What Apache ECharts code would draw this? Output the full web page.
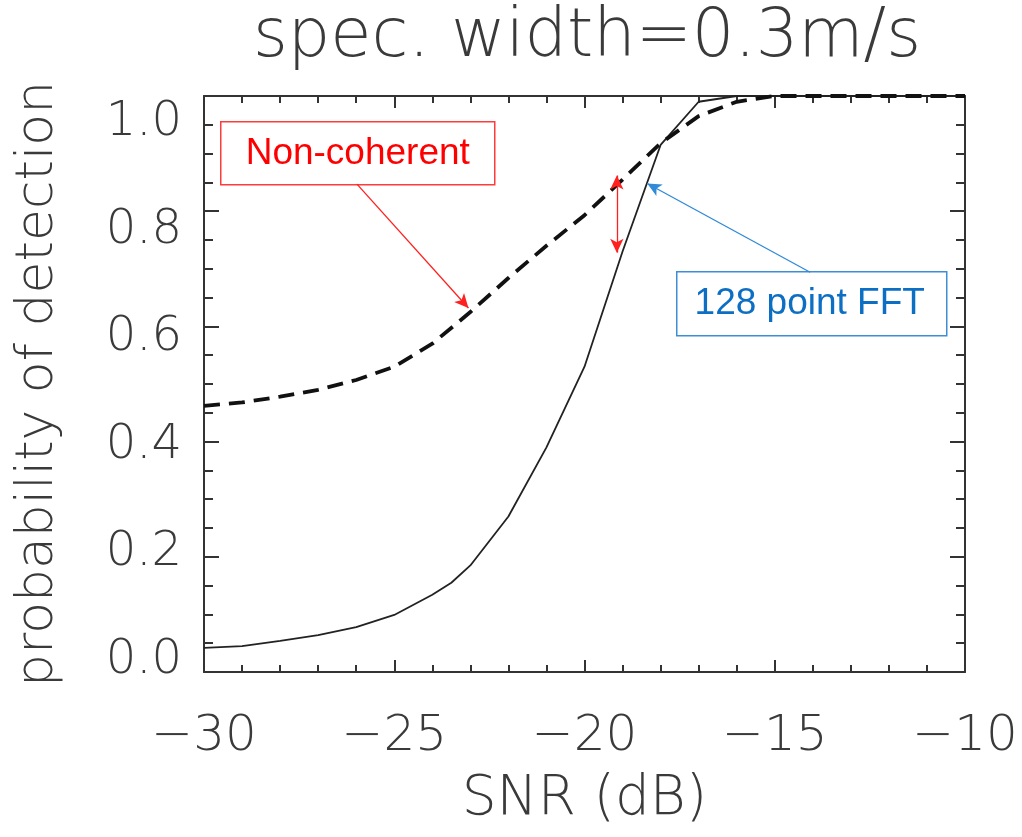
<!DOCTYPE html>
<html>
<head>
<meta charset="utf-8">
<script src="https://cdn.jsdelivr.net/npm/echarts@6/dist/echarts.min.js"></script>
<style>
html,body{margin:0;padding:0;background:#fff;}
#c{width:1022px;height:837px;}
</style>
</head>
<body>
<div id="c"></div>
<script>
// ---- data (SNR in dB, probability of detection) ----
const fftSNR  = [-30, -29, -28, -27, -26, -25, -24, -23.5, -23, -22, -21, -20, -19, -18, -17, -16, -15, -10];
const fftProb = [0.042, 0.045, 0.054, 0.064, 0.078, 0.099, 0.134, 0.155, 0.185, 0.27, 0.39, 0.53, 0.73, 0.915, 0.99, 1.0, 1.0, 1.0];
const nonCohSNR  = [-30, -29, -28, -27, -26, -25, -24, -23, -22, -21, -20, -19, -18, -17, -16, -15, -14, -10];
const nonCohProb = [0.462, 0.468, 0.478, 0.49, 0.507, 0.53, 0.57, 0.625, 0.684, 0.74, 0.793, 0.855, 0.918, 0.965, 0.99, 1.0, 1.0, 1.0];
const yTickLabels = [0.0, 0.2, 0.4, 0.6, 0.8, 1.0];
const xTickLabels = [-30, -25, -20, -15, -10];
const titleText = 'spec. width=0.3m/s';
const xName = 'SNR (dB)';
const yName = 'probability of detection';
const nonCohLabel = 'Non-coherent';
const fftLabel = '128 point FFT';
// annotation arrows in data coordinates [snr, prob]
const nonCohArrow = [[-25.98, 0.847], [-23.05, 0.632]];
const fftArrow = [[-14.07, 0.694], [-18.35, 0.848]];
const gapArrow = [[-19.15, 0.862], [-19.15, 0.728]];

const pair = (xs, ys) => xs.map((x, i) => [x, ys[i]]);

const FONT = '"DejaVu Sans", "Liberation Sans", sans-serif';
const TXT = '#3a3a3a';
const AX = '#333';

const chart = echarts.init(document.getElementById('c'), null, {renderer: 'canvas'});

const frameAxis = (pos, isX) => ({
  type: 'value',
  position: pos,
  min: isX ? -30 : 0,
  max: isX ? -10 : 1,
  interval: isX ? 5 : 0.2,
  axisLine: {show: true, onZero: false, lineStyle: {color: AX, width: 2}},
  axisTick: {show: true, inside: true, length: isX ? 12 : 15, lineStyle: {color: AX, width: 2}},
  minorTick: {show: true, splitNumber: isX ? 5 : 4, length: isX ? 7 : 9, lineStyle: {color: AX, width: 2}},
  axisLabel: {show: false},
  splitLine: {show: false},
  minorSplitLine: {show: false}
});

const minus = v => String(v).replace('-', '\u2212');

const option = {
  backgroundColor: '#fff',
  animation: false,
  title: {
    text: titleText,
    left: 582, top: 0, textAlign: 'center',
    textStyle: {fontFamily: FONT, fontWeight: 200, fontSize: 67, color: TXT}
  },
  grid: {left: 204, right: 57, top: 96, bottom: 165, containLabel: false, outerBoundsMode: 'none'},
  xAxis: [
    Object.assign(frameAxis('bottom', true), {
      axisLabel: {show: true, margin: 40, fontFamily: FONT, fontWeight: 200, fontSize: 50, color: TXT,
        customValues: xTickLabels, formatter: v => minus(v)},
      name: xName, nameLocation: 'middle', nameGap: 100,
      nameTextStyle: {fontFamily: FONT, fontWeight: 200, fontSize: 55, color: TXT}
    }),
    frameAxis('top', true)
  ],
  yAxis: [
    frameAxis('left', false),
    frameAxis('right', false),
    {
      type: 'value', position: 'left', offset: 0,
      min: -0.022, max: 1.05,
      axisLine: {show: false}, axisTick: {show: false}, splitLine: {show: false},
      axisLabel: {show: true, margin: 22, fontFamily: FONT, fontWeight: 200, fontSize: 48, color: TXT,
        customValues: yTickLabels, formatter: v => v.toFixed(1)},
      name: yName, nameLocation: 'middle', nameGap: 140, nameRotate: 90,
      nameTextStyle: {fontFamily: FONT, fontWeight: 200, fontSize: 52, color: TXT}
    }
  ],
  series: [
    {
      name: fftLabel, type: 'line', xAxisIndex: 0, yAxisIndex: 0,
      data: pair(fftSNR, fftProb), symbol: 'none', smooth: false,
      lineStyle: {color: '#222', width: 1.8}, z: 3,
      markLine: {
        silent: true, symbol: ['none', 'arrow'], symbolSize: [10, 14], label: {show: false},
        lineStyle: {color: '#2f8ad8', width: 1.3, type: 'solid'},
        data: [[{coord: fftArrow[0]}, {coord: fftArrow[1]}]]
      }
    },
    {
      name: nonCohLabel, type: 'line', xAxisIndex: 0, yAxisIndex: 0,
      data: pair(nonCohSNR, nonCohProb), symbol: 'none', smooth: false,
      lineStyle: {color: '#111', width: 3.8, type: [16, 9]}, z: 4,
      markLine: {
        silent: true, symbol: ['none', 'arrow'], symbolSize: [10, 14], label: {show: false},
        lineStyle: {color: '#ff2020', width: 1.3, type: 'solid'},
        data: [
          [{coord: nonCohArrow[0]}, {coord: nonCohArrow[1]}],
          [{coord: gapArrow[0], symbol: 'arrow'}, {coord: gapArrow[1]}]
        ]
      }
    }
  ],
  graphic: [
    {
      type: 'group', left: 220, top: 121, z: 10,
      children: [
        {type: 'rect', shape: {x: 0, y: 0, width: 274, height: 63},
          style: {fill: '#fff', stroke: '#ff3b3b', lineWidth: 1.5}},
        {type: 'text', x: 137, y: 32,
          style: {text: nonCohLabel, fill: '#ff0000', font: '37px "Liberation Sans", Arial, sans-serif',
            textAlign: 'center', textVerticalAlign: 'middle'}}
      ]
    },
    {
      type: 'group', left: 676, top: 271, z: 10,
      children: [
        {type: 'rect', shape: {x: 0, y: 0, width: 270, height: 64},
          style: {fill: '#fff', stroke: '#3d8ed6', lineWidth: 1.5}},
        {type: 'text', x: 133, y: 32,
          style: {text: fftLabel, fill: '#0c6fc4', font: '37px "Liberation Sans", Arial, sans-serif',
            textAlign: 'center', textVerticalAlign: 'middle'}}
      ]
    }
  ]
};
chart.setOption(option);
</script>
</body>
</html>
